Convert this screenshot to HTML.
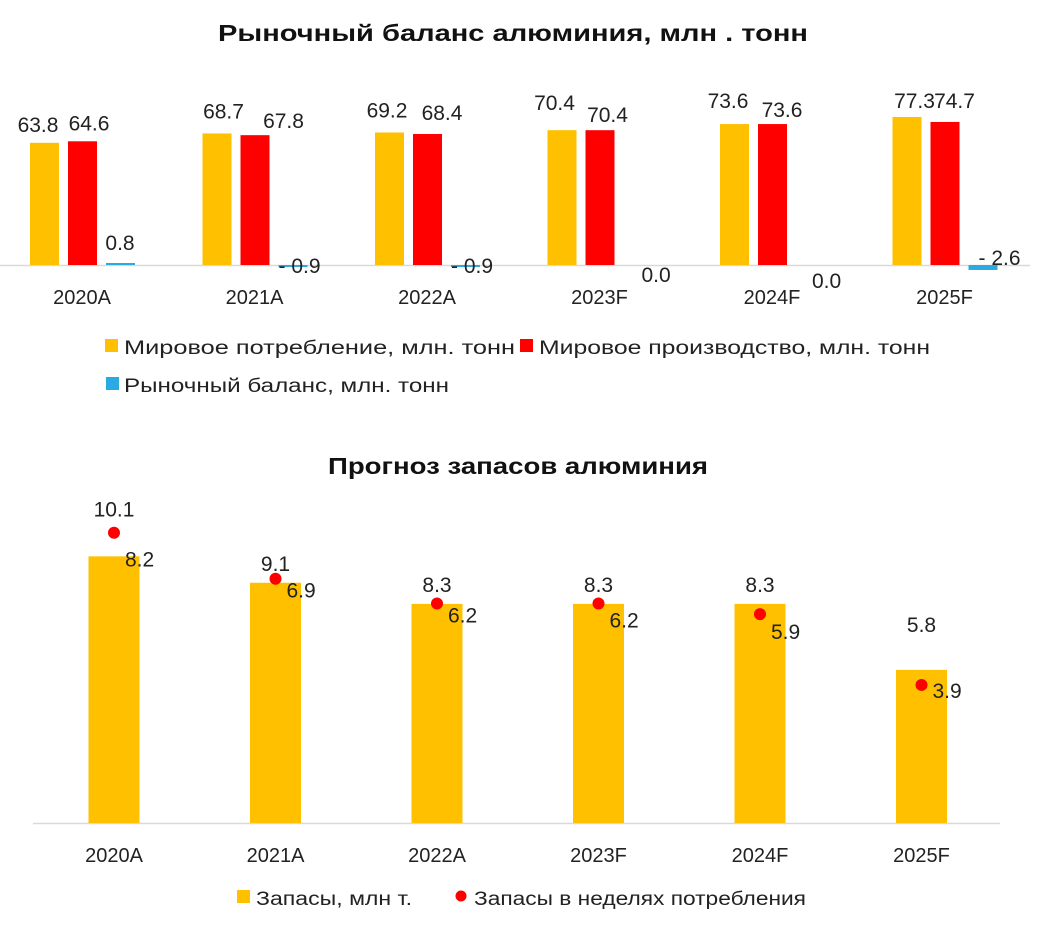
<!DOCTYPE html>
<html><head><meta charset="utf-8">
<style>
body{margin:0;background:#fff;}
svg{display:block;font-family:"Liberation Sans","DejaVu Sans",sans-serif;}
</style></head>
<body>
<svg id="c" width="1042" height="932" viewBox="0 0 1042 932">
<text x="218" y="41" font-size="23" font-weight="bold" fill="#111" textLength="590" lengthAdjust="spacingAndGlyphs">Рыночный баланс алюминия, млн . тонн</text>
<line x1="0" y1="265.5" x2="1030" y2="265.5" stroke="#d9d9d9" stroke-width="1.5"/>
<g id="topPlot"></g>
<g>
<rect x="105" y="339" width="13" height="13" fill="#FFC000"/>
<text x="124" y="354" font-size="19" fill="#222" textLength="391" lengthAdjust="spacingAndGlyphs">Мировое потребление, млн. тонн</text>
<rect x="520" y="339" width="13" height="13" fill="#FF0000"/>
<text x="539" y="354" font-size="19" fill="#222" textLength="391" lengthAdjust="spacingAndGlyphs">Мировое производство, млн. тонн</text>
<rect x="106" y="377" width="13" height="13" fill="#29ABE2"/>
<text x="124" y="392" font-size="19" fill="#222" textLength="325" lengthAdjust="spacingAndGlyphs">Рыночный баланс, млн. тонн</text>
</g>
<text x="328" y="474" font-size="23" font-weight="bold" fill="#111" textLength="380" lengthAdjust="spacingAndGlyphs">Прогноз запасов алюминия</text>
<line x1="33" y1="823.5" x2="1000" y2="823.5" stroke="#d9d9d9" stroke-width="1.5"/>
<g id="botPlot"></g>
<g>
<rect x="237" y="890" width="13" height="13" fill="#FFC000"/>
<text x="256" y="905" font-size="19" fill="#222" textLength="156" lengthAdjust="spacingAndGlyphs">Запасы, млн т.</text>
<circle cx="461" cy="896" r="5.5" fill="#FF0000"/>
<text x="474" y="905" font-size="19" fill="#222" textLength="332" lengthAdjust="spacingAndGlyphs">Запасы в неделях потребления</text>
</g>
</svg>
<script>
const categories=["2020A","2021A","2022A","2023F","2024F","2025F"];
const consumption=[63.8,68.7,69.2,70.4,73.6,77.3];
const production=[64.6,67.8,68.4,70.4,73.6,74.7];
const balance=[0.8,-0.9,-0.9,0.0,0.0,-2.6];
const balanceLabels=["0.8","- 0.9","- 0.9","0.0","0.0","- 2.6"];
const stocks=[10.1,9.1,8.3,8.3,8.3,5.8];
const weeks=[8.2,6.9,6.2,6.2,5.9,3.9];

// label placement offsets (layout only)
const consDx=[8,21,12,7,8,22], consDy=[11,15,15,20,16,9];
const prodDx=[59,81,67,60,62,62], prodDy=[11,7,14,8,7,14];
const balDx=[90,76,76,94,92,86], balY=[250,273,273,282,288,265];
const weekDy=[34,19,19,24,25,13];

const NS="http://www.w3.org/2000/svg";
function mk(p,t,a,txt){const e=document.createElementNS(NS,t);for(const k in a)e.setAttribute(k,a[k]);if(txt!==undefined)e.textContent=txt;p.appendChild(e);return e;}
const topG=document.getElementById('topPlot'),botG=document.getElementById('botPlot');
const tBase=265,tScale=1.915;
const tx=i=>30+i*172.5;
const ty=v=>tBase-v*tScale;
categories.forEach((c,i)=>{
  const x0=tx(i);
  let r=mk(topG,'rect',{x:x0,y:ty(consumption[i]),width:29,height:consumption[i]*tScale,fill:'#FFC000'});
  
  
  r=mk(topG,'rect',{x:x0+38,y:ty(production[i]),width:29,height:production[i]*tScale,fill:'#FF0000'});
  
  
  const b=balance[i];const bh=Math.max(Math.abs(b)*tScale,b===0?0:2);
  r=mk(topG,'rect',{x:x0+76,y:b>=0?tBase-bh:tBase,width:29,height:bh,fill:'#29ABE2'});
  
  
  let t=mk(topG,'text',{x:x0+consDx[i],y:ty(consumption[i])-consDy[i],'text-anchor':'middle','font-size':21,fill:'#222'},consumption[i].toFixed(1));
  
  
  t=mk(topG,'text',{x:x0+prodDx[i],y:ty(production[i])-prodDy[i],'text-anchor':'middle','font-size':21,fill:'#222'},production[i].toFixed(1));
  
  
  t=mk(topG,'text',{x:x0+balDx[i],y:balY[i],'text-anchor':b>0?'middle':'start','font-size':21,fill:'#222'},balanceLabels[i]);
  
  
  t=mk(topG,'text',{x:x0+52,y:304,'text-anchor':'middle','font-size':20,fill:'#222'},c);
  
  
});
const bBase=823,bScale=26.4,wScale=35.4;
const bx=i=>114+i*161.5;
const by=v=>bBase-v*bScale;
const wy=v=>bBase-v*wScale;
categories.forEach((c,i)=>{
  const cx=bx(i);
  let r=mk(botG,'rect',{x:cx-25.5,y:by(stocks[i]),width:51,height:stocks[i]*bScale,fill:'#FFC000'});
  
  
  let t=mk(botG,'text',{x:cx,y:by(stocks[i])-(i===0?40:i===5?38:12),'text-anchor':'middle','font-size':21,fill:'#222'},stocks[i].toFixed(1));
  
  
  const d=mk(botG,'circle',{cx:cx,cy:wy(weeks[i]),r:6,fill:'#FF0000'});
  
  
  t=mk(botG,'text',{x:cx+11,y:wy(weeks[i])+weekDy[i],'font-size':21,fill:'#222'},weeks[i].toFixed(1));
  
  
  t=mk(botG,'text',{x:cx,y:862,'text-anchor':'middle','font-size':20,fill:'#222'},c);
  
  
});
</script>
</body></html>
